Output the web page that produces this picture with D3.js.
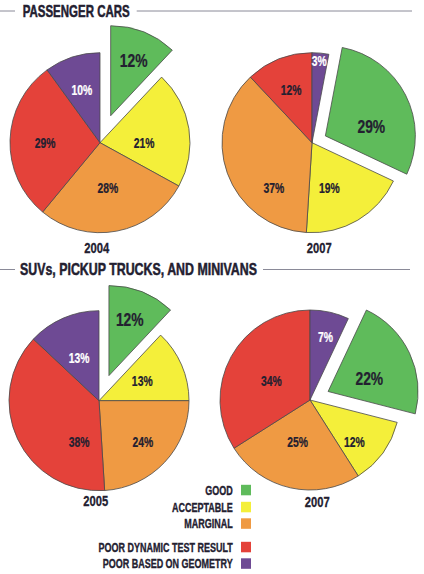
<!DOCTYPE html>
<html>
<head>
<meta charset="utf-8">
<script src="https://cdn.jsdelivr.net/npm/d3@7"></script>
<style>
  html, body { margin: 0; padding: 0; background: #ffffff; }
  svg { display: block; }
  text { font-family: "Liberation Sans", Arial, sans-serif; font-weight: bold; }
</style>
</head>
<body>
<svg id="chart" width="424" height="574"></svg>
<script>
// ---- data ----
const categories = ["GOOD", "ACCEPTABLE", "MARGINAL", "POOR DYNAMIC TEST RESULT", "POOR BASED ON GEOMETRY"];
const colors = ["#5fbb5b", "#f4ef3a", "#ef9a43", "#e4423a", "#6e4a94"];
const sections = ["PASSENGER CARS", "SUVs, PICKUP TRUCKS, AND MINIVANS"];
const years = ["2004", "2007", "2005", "2007"];
const cars2004 = [12, 21, 28, 29, 10];
const cars2007 = [29, 19, 37, 12, 3];
const suv2005 = [12, 13, 24, 38, 13];
const suv2007 = [22, 12, 25, 34, 7];
const pieValues = [cars2004, cars2007, suv2005, suv2007];

// ---- layout (positions only) ----
const R = 90;
const layout = [
  { cx: 100, cy: 142.7, explode: 29, yearX: 96.7, yearY: 248, rotate: false,
    labels: [[22.7, 0.66], [90, 0.49], [170, 0.51], [270, 0.61], [341, 0.62]] },
  { cx: 312, cy: 142.7, explode: 15, yearX: 319.3, yearY: 248, rotate: true,
    labels: [[79, 0.52], [159, 0.54], [220, 0.66], [338.5, 0.63], [5, 0.91]] },
  { cx: 99, cy: 400.7, explode: 27, yearX: 95.7, yearY: 501, rotate: false,
    labels: [[20.5, 0.66], [65, 0.53], [133.5, 0.67], [205.6, 0.51], [335, 0.52]] },
  { cx: 310, cy: 400, explode: 20, yearX: 317.3, yearY: 501.7, rotate: true,
    labels: [[72.5, 0.48], [133.7, 0.68], [196.3, 0.49], [296.7, 0.48], [13.9, 0.72]] }
];

const svg = d3.select("#chart");
const textColor = "#232030";

// condensed bold text helper
function ctext(parent, x, y, str, size, sx, anchor, fill, sw) {
  const g = parent.append("g").attr("transform", `translate(${x},${y}) scale(${sx},1)`);
  const c = fill || textColor;
  return g.append("text").attr("x", 0).attr("y", 0).attr("dy", "0.36em")
    .attr("text-anchor", anchor).attr("font-size", size).attr("fill", c)
    .attr("stroke", c).attr("stroke-width", sw || 0.3)
    .text(str);
}

// section headers
const headerLayout = [
  { y: 11, x0: 22.7, width: 107, lineL: [0, 15], lineR: [136.7, 412] },
  { y: 269.5, x0: 20, width: 237, lineL: [0, 15], lineR: [263, 410] }
];
sections.forEach((s, i) => {
  const h = headerLayout[i];
  svg.append("line").attr("x1", h.lineL[0]).attr("x2", h.lineL[1]).attr("y1", h.y).attr("y2", h.y)
    .attr("stroke", "#8a8a98").attr("stroke-width", 1);
  svg.append("line").attr("x1", h.lineR[0]).attr("x2", h.lineR[1]).attr("y1", h.y).attr("y2", h.y)
    .attr("stroke", "#8a8a98").attr("stroke-width", 1);
  svg.append("text").attr("x", h.x0).attr("y", h.y).attr("dy", "0.36em")
    .attr("font-size", 16.3).attr("fill", textColor)
    .attr("stroke", textColor).attr("stroke-width", 0.5)
    .attr("textLength", h.width).attr("lengthAdjust", "spacingAndGlyphs")
    .text(s);
});

const arc = d3.arc().innerRadius(0).outerRadius(R);

pieValues.forEach((vals, pi) => {
  const L = layout[pi];
  const total = d3.sum(vals);
  // clockwise order: good, acceptable, marginal, poor dynamic, poor geometry
  const offset = vals[vals.length - 1] / total * 2 * Math.PI;
  const startA = L.rotate ? offset : 0;
  const pie = d3.pie().sort(null).value(d => d).startAngle(startA).endAngle(startA + 2 * Math.PI);
  const arcs = pie(vals);
  const g = svg.append("g").attr("transform", `translate(${L.cx},${L.cy})`);

  arcs.forEach((a, i) => {
    let dx = 0, dy = 0;
    if (i === 0) {
      const mid = (a.startAngle + a.endAngle) / 2;
      dx = Math.sin(mid) * L.explode;
      dy = -Math.cos(mid) * L.explode;
    }
    const sg = g.append("g").attr("transform", `translate(${dx},${dy})`);
    sg.append("path").attr("d", arc(a))
      .attr("fill", colors[i])
      .attr("stroke", "#4a4a4a").attr("stroke-width", 0.8).attr("stroke-linejoin", "round");
    const lab = L.labels[i];
    const ang = lab[0] * Math.PI / 180;
    const rr = lab[1] * R;
    ctext(sg, Math.sin(ang) * rr, -Math.cos(ang) * rr, vals[i] + "%",
      i === 0 ? 18 : 14, i === 0 ? 0.77 : 0.74, "middle", i === 4 ? "#ffffff" : textColor, 0.25);
  });

  ctext(svg, L.yearX, L.yearY, years[pi], 14, 0.8, "middle", textColor, 0.3);
});

// legend
const legendRows = [490, 507, 523.5, 547, 563.5];
const legend = svg.append("g");
categories.forEach((c, i) => {
  ctext(legend, 232.7, legendRows[i], c, 12.5, 0.72, "end", textColor, 0.35);
  legend.append("rect").attr("x", 241).attr("y", legendRows[i] - 5.2)
    .attr("width", 10).attr("height", 10.5).attr("fill", colors[i]);
});
</script>
</body>
</html>
